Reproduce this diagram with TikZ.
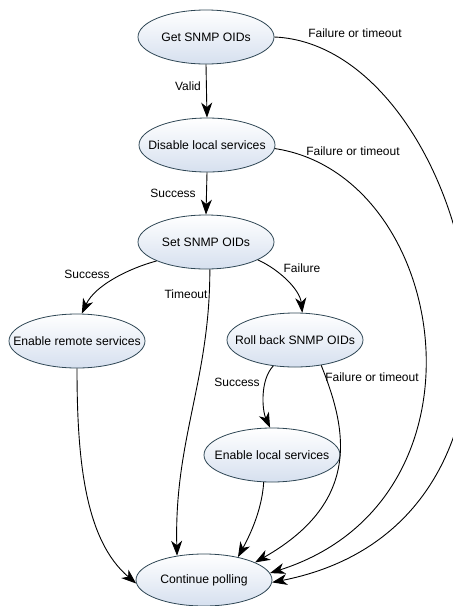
\documentclass[tikz,border=0pt]{standalone}
\usepackage{fontspec}
\setmainfont{Liberation Sans}
\usetikzlibrary{shapes.geometric,arrows.meta}

\definecolor{ovalline}{HTML}{2E4654}
\definecolor{ovalfill}{HTML}{D6E0EF}

% text is centred without widening the oval
\newcommand{\ovaltext}[1]{\makebox[0pt]{#1}}

\tikzset{
  state/.style={ellipse, draw=ovalline, line width=0.8pt,
    top color=white, bottom color=ovalfill,
    minimum width=136pt, minimum height=54pt, inner sep=0pt,
    font=\fontsize{12.2}{14}\selectfont},
  flow/.style={draw=black, line width=0.9pt,
    -{Stealth[length=15pt, width=11pt, inset=4.5pt]}},
  lbl/.style={font=\fontsize{12}{14}\selectfont, inner sep=0pt}
}

\begin{document}
\begin{tikzpicture}[x=1pt, y=-1pt]
  \useasboundingbox (0,0) rectangle (453,606);
  \clip (0,0) rectangle (453,606);

  % states
  \node[state] (get)  at (206,37)  {\ovaltext{Get SNMP OIDs}};
  \node[state] (dis)  at (207,145) {\ovaltext{Disable local services}};
  \node[state] (set)  at (206,242) {\ovaltext{Set SNMP OIDs}};
  \node[state] (rem)  at (77,341)  {\ovaltext{Enable remote services}};
  \node[state] (rb)   at (295,340) {\ovaltext{Roll back SNMP OIDs}};
  \node[state] (loc)  at (272,455) {\ovaltext{Enable local services}};
  \node[state, minimum height=52pt] (cont) at (204,580) {\ovaltext{Continue polling}};

  % main sequence
  \draw[flow] (get.south) -- (dis.north)
    node[lbl] at (188,86) {Valid};
  \draw[flow] (dis.south) -- (set.north)
    node[lbl] at (173,193) {Success};

  % branches after setting the OIDs
  \draw[flow] (set.201) .. controls (130,268) and (95,285) .. (rem.80)
    node[lbl] at (87,274) {Success};
  \draw[flow] (set.278) .. controls (210,380) and (174,440) .. (cont.138)
    node[lbl] at (186,294) {Timeout};
  \draw[flow] (set.341) .. controls (280,270) and (300,290) .. (rb.75)
    node[lbl] at (302,268) {Failure};

  % roll back
  \draw[flow] (rb.230) .. controls (260,380) and (262,410) .. (loc.94)
    node[lbl] at (237,382) {Success};
  \draw[flow] (rb.316) .. controls (345,425) and (365,500) .. (cont.19)
    node[lbl] at (372,377) {Failure or timeout};

  % into polling
  \draw[flow] (loc.253) .. controls (262,510) and (250,535) .. (cont.34);
  \draw[flow] (rem.south) .. controls (77,460) and (85,540) .. (cont.183);

  % long failure paths
  \draw[flow] (dis.357) .. controls (450,175) and (500,500) .. (cont.6)
    node[lbl] at (353,151) {Failure or timeout};
  \draw[flow] (get.east) .. controls (470,45) and (590,520) .. (cont.358)
    node[lbl] at (355,33) {Failure or timeout};
\end{tikzpicture}
\end{document}
